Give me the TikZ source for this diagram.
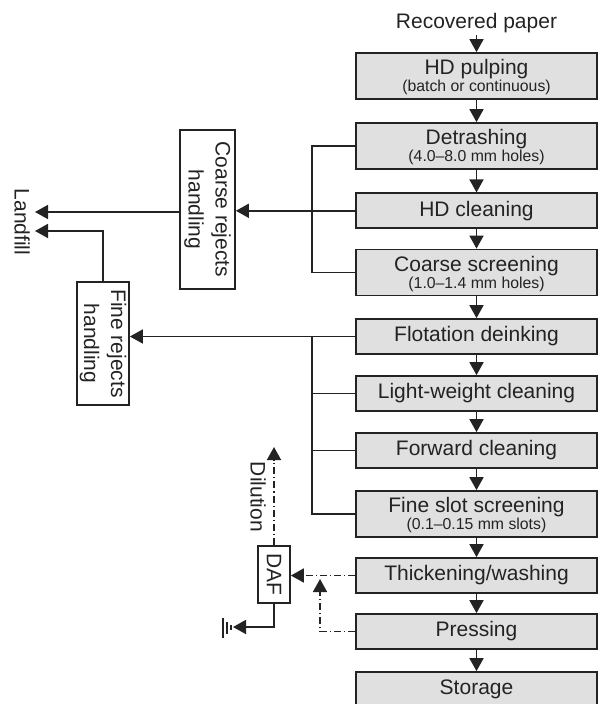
\documentclass[tikz,border=0pt]{standalone}
\usepackage{fontspec}
\setmainfont{Liberation Sans}
\usetikzlibrary{arrows.meta,calc}
\definecolor{boxfill}{RGB}{224,224,224}
\definecolor{linec}{RGB}{35,35,35}
\newcommand\subline[1]{\\{\fontsize{7.9}{8.5}\selectfont #1}}
\begin{document}
\begin{tikzpicture}[x=0.5pt,y=-0.5pt,
  base/.style={draw=linec, line width=0.85pt, inner sep=0pt, text=linec},
  proc/.style={base, fill=boxfill, minimum width=120.5pt, minimum height=17.5pt,
    font=\fontsize{10.5}{12}\selectfont, text height=7.6pt, text depth=2.2pt},
  proc2/.style={base, fill=boxfill, minimum width=120.5pt, minimum height=23pt,
    align=center, font=\fontsize{10.5}{8.5}\selectfont},
  side/.style={base, rotate=-90, align=center, font=\fontsize{10.5}{13.5}\selectfont},
  lbl/.style={inner sep=1pt, text=linec, font=\fontsize{10.5}{12}\selectfont, text height=7.6pt, text depth=2.2pt},
  conn/.style={draw=linec, line width=0.8pt},
  arr/.style={conn, -{Triangle[length=6.5pt,width=7pt]}},
  dd/.style={dash pattern=on 3.5pt off 1.5pt on 0.6pt off 1.5pt}
]
\useasboundingbox (0,0) rectangle (598,704);

% main process chain
\node[lbl] (rec) at (476.5,23) {Recovered paper};
\node[proc2] (hdp) at (476.5,76) {\rule{0pt}{9pt}HD pulping\subline{(batch or continuous)}};
\node[proc2] (detr) at (476.5,146) {\rule{0pt}{9pt}Detrashing\subline{(4.0–8.0 mm holes)}};
\node[proc] (hdc) at (476.5,210.8) {HD cleaning};
\node[proc2] (cs) at (476.5,272.5) {\rule{0pt}{9pt}Coarse screening\subline{(1.0–1.4 mm holes)}};
\node[proc] (flot) at (476.5,336.5) {Flotation deinking};
\node[proc] (lw) at (476.5,393.5) {Light-weight cleaning};
\node[proc] (fwd) at (476.5,450.5) {Forward cleaning};
\node[proc2] (fss) at (476.5,514) {\rule{0pt}{9pt}Fine slot screening\subline{(0.1–0.15 mm slots)}};
\node[proc] (thk) at (476.5,575.5) {Thickening/washing};
\node[proc] (prs) at (476.5,631.5) {Pressing};
\node[proc] (sto) at (476.5,689.5) {Storage};

% side boxes and labels
\node[side, minimum width=79.5pt, minimum height=27.5pt] (crh) at (207.5,209.5) {Coarse rejects\\handling};
\node[side, minimum width=61.5pt, minimum height=26pt] (frh) at (103,343.5) {Fine rejects\\handling};
\node[side, minimum width=28.5pt, minimum height=16pt] (daf) at (274,574.5) {DAF};
\node[lbl, rotate=-90] (lf) at (20,222) {Landfill};
\node[lbl, rotate=-90] (dil) at (256,497) {Dilution};

% helper coordinates
\coordinate (bx) at (312,0);
\coordinate (lf1) at (35,212);
\coordinate (lf2) at (35,231);
\coordinate (dilt) at (274,447);
\coordinate (gnd) at (233,627);
\coordinate (pj) at (320,579);

% main arrows
\draw[arr] (rec.south) -- (hdp.north);
\foreach \a/\b in {hdp/detr, detr/hdc, hdc/cs, cs/flot, flot/lw, lw/fwd, fwd/fss, fss/thk, thk/prs, prs/sto}
  \draw[arr] (\a.south) -- (\b.north);

% coarse rejects
\draw[conn] (detr.west) -- (detr.west -| bx) -- (cs.west -| bx) -- (cs.west);
\draw[arr] (hdc.west) -- (hdc.west -| crh.north);
\draw[arr] (crh.south |- lf1) -- (lf1);

% fine rejects
\draw[arr] (flot.west) -- (flot.west -| frh.north);
\draw[conn] (flot.west -| bx) -- (fss.west -| bx) -- (fss.west);
\draw[conn] (lw.west) -- (lw.west -| bx);
\draw[conn] (fwd.west) -- (fwd.west -| bx);
\draw[arr] (frh.west) |- (lf2);

% DAF loop
\draw[arr, dd] (thk.west) -- (thk.west -| daf.north);
\draw[arr, dd] (prs.west) -| (pj);
\draw[arr, dd] (daf.west) -- (dilt);
\draw[arr] (daf.east) |- (gnd);
\draw[conn] ($(gnd)+(-10,-9)$) -- ($(gnd)+(-10,11)$)
            ($(gnd)+(-6,-5)$) -- ($(gnd)+(-6,7)$)
            ($(gnd)+(-2,-2)$) -- ($(gnd)+(-2,3)$);
\end{tikzpicture}
\end{document}
